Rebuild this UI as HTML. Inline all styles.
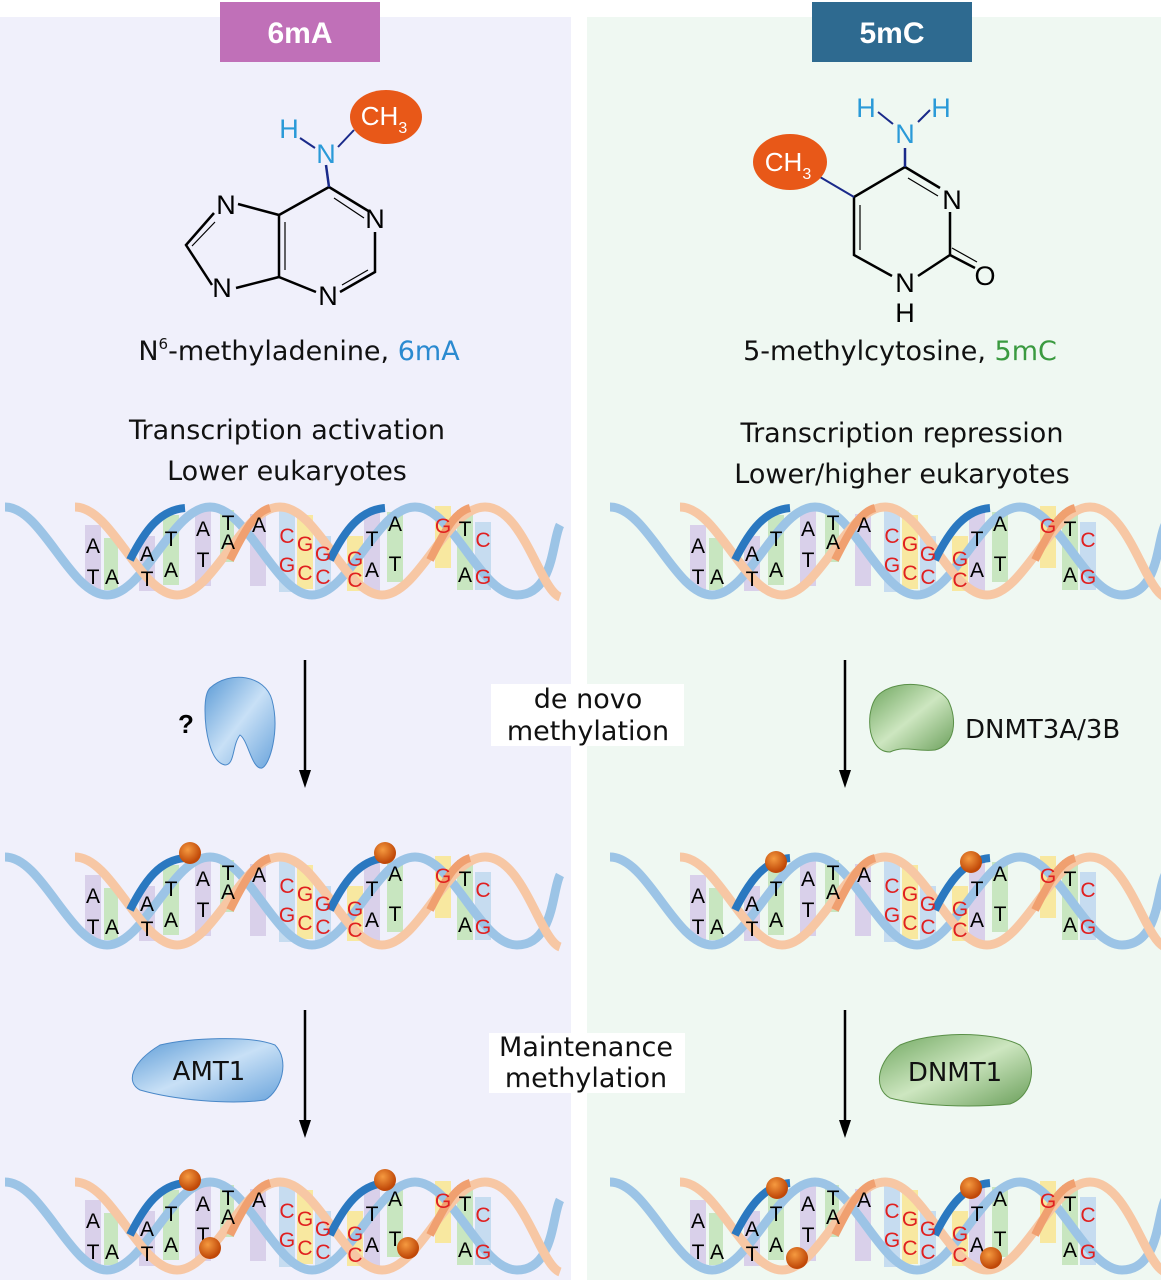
<!DOCTYPE html>
<html><head><meta charset="utf-8"><style>
html,body{margin:0;padding:0;background:#fff}
svg{display:block}
text{font-family:"Liberation Sans",sans-serif}
.t{font-family:"DejaVu Sans","Liberation Sans",sans-serif}
</style></head><body>
<svg width="1161" height="1280" viewBox="0 0 1161 1280" xmlns="http://www.w3.org/2000/svg">
<defs>
<g id="helix">
  <g>
    <rect x="85" y="525" width="16" height="66" fill="#d9d0ea"/>
    <rect x="104" y="538" width="14" height="52" fill="#c8e6c0"/>
    <rect x="139" y="536" width="16" height="55" fill="#d9d0ea"/>
    <rect x="163" y="515" width="16" height="70" fill="#c8e6c0"/>
    <rect x="195" y="508" width="16" height="78" fill="#d9d0ea"/>
    <rect x="220" y="510" width="14" height="52" fill="#c8e6c0"/>
    <rect x="250" y="514" width="16" height="72" fill="#d9d0ea"/>
    <rect x="279" y="510" width="16" height="82" fill="#c6dcf0"/>
    <rect x="297" y="515" width="16" height="74" fill="#f8e8a0"/>
    <rect x="315" y="536" width="16" height="55" fill="#c6dcf0"/>
    <rect x="347" y="536" width="16" height="55" fill="#f8e8a0"/>
    <rect x="364" y="512" width="16" height="80" fill="#d9d0ea"/>
    <rect x="387" y="512" width="16" height="70" fill="#c8e6c0"/>
    <rect x="435" y="506" width="16" height="62" fill="#f8e8a0"/>
    <rect x="457" y="510" width="16" height="80" fill="#c8e6c0"/>
    <rect x="475" y="522" width="16" height="68" fill="#c6dcf0"/>
  </g>
  <path d="M5 507 C42 507 70 595 107 595 S172 507 210 507 S275 595 312 595 S377 507 415 507 S480 595 517 595 S552 540 560 525" fill="none" stroke="#9cc4e6" stroke-width="9"/>
  <path d="M75 507 C112 507 140 595 177 595 S242 507 280 507 S345 595 382 595 S447 507 485 507 S540 590 560 597" fill="none" stroke="#f7c7a4" stroke-width="9"/>
  <path d="M130 560 C145 530 160 510 185 508" fill="none" stroke="#2a78c0" stroke-width="8"/>
  <path d="M330 560 C345 530 360 510 385 508" fill="none" stroke="#2a78c0" stroke-width="8"/>
  <path d="M230 560 C245 530 255 512 270 508" fill="none" stroke="#f0a070" stroke-width="8"/>
  <path d="M430 560 C445 530 455 512 470 508" fill="none" stroke="#f0a070" stroke-width="8"/>
  <g font-size="21" text-anchor="middle">
    <text x="93" y="553">A</text><text x="93" y="584">T</text>
    <text x="112" y="584">A</text>
    <text x="147" y="561">A</text><text x="147" y="586">T</text>
    <text x="171" y="546">T</text><text x="171" y="577">A</text>
    <text x="203" y="536">A</text><text x="203" y="567">T</text>
    <text x="228" y="530">T</text><text x="228" y="549">A</text>
    <text x="259" y="532">A</text>
    <text x="287" y="543" fill="#e02020">C</text><text x="287" y="572" fill="#e02020">G</text>
    <text x="305" y="551" fill="#e02020">G</text><text x="305" y="580" fill="#e02020">C</text>
    <text x="323" y="561" fill="#e02020">G</text><text x="323" y="584" fill="#e02020">C</text>
    <text x="355" y="566" fill="#e02020">G</text><text x="355" y="587" fill="#e02020">C</text>
    <text x="372" y="546">T</text><text x="372" y="577">A</text>
    <text x="395" y="531">A</text><text x="395" y="571">T</text>
    <text x="443" y="533" fill="#e02020">G</text>
    <text x="465" y="536">T</text><text x="465" y="582">A</text>
    <text x="483" y="547" fill="#e02020">C</text><text x="483" y="584" fill="#e02020">G</text>
  </g>
</g>
<radialGradient id="ball" cx="0.4" cy="0.35" r="0.6"><stop offset="0" stop-color="#f59a40"/><stop offset="1" stop-color="#c04808"/></radialGradient>
<linearGradient id="bl" x1="0" y1="0" x2="1" y2="1"><stop offset="0" stop-color="#5a9ad6"/><stop offset="0.5" stop-color="#c8e0f6"/><stop offset="1" stop-color="#6aa4dc"/></linearGradient>
<linearGradient id="gr" x1="0" y1="0" x2="1" y2="1"><stop offset="0" stop-color="#6ea65e"/><stop offset="0.5" stop-color="#cde6c0"/><stop offset="1" stop-color="#6a9f5a"/></linearGradient>
</defs>

<rect x="0" y="17" width="571" height="1263" fill="#f0f0fb"/>
<rect x="587" y="17" width="574" height="1263" fill="#eff8f2"/>

<rect x="220" y="2" width="160" height="60" fill="#c070b8"/>
<text x="300" y="43" font-size="30" font-weight="bold" fill="#fff" text-anchor="middle">6mA</text>
<rect x="812" y="2" width="160" height="60" fill="#2e6a90"/>
<text x="892" y="43" font-size="30" font-weight="bold" fill="#fff" text-anchor="middle">5mC</text>

<g stroke="#000" stroke-width="2.5" fill="none">
  <path d="M329 187 L370 212 M375 232 L375 272 L340 292 M316 292 L279 277 L279 215 L329 187 M279 215 L238 204 M214 213 L186 245 L212 285 M236 288 L279 277"/>
  <path d="M285 222 L285 270 M334 198 L364 218 M368 270 L342 285 M215 222 L192 246" stroke-width="1.2"/>
</g>
<line x1="329" y1="187" x2="326" y2="165" stroke="#1a2a8a" stroke-width="2.5"/>
<line x1="338" y1="147" x2="354" y2="130" stroke="#1a2a8a" stroke-width="2"/>
<line x1="300" y1="138" x2="315" y2="148" stroke="#1a2a8a" stroke-width="2"/>
<g font-size="27" text-anchor="middle">
<text x="226" y="214">N</text><text x="375" y="228">N</text><text x="222" y="297">N</text><text x="328" y="305">N</text>
<text x="326" y="163" fill="#2a9ad8">N</text><text x="289" y="138" fill="#2a9ad8">H</text>
</g>
<ellipse cx="386" cy="117" rx="36" ry="27" fill="#e85818"/>
<text x="384" y="125" font-size="26" fill="#fff" text-anchor="middle">CH<tspan font-size="16" dy="8">3</tspan></text>

<g stroke="#000" stroke-width="2.5" fill="none">
  <path d="M905 167 L940 188 M950 212 L950 255 L918 276 M892 276 L854 255 L854 197 L905 167 M950 255 L975 268"/>
  <path d="M860 205 L860 250 M908 178 L938 196 M952 248 L977 262" stroke-width="1.2"/>
</g>
<line x1="854" y1="197" x2="820" y2="177" stroke="#1a2a8a" stroke-width="2"/>
<line x1="905" y1="167" x2="905" y2="148" stroke="#1a2a8a" stroke-width="2.5"/>
<line x1="878" y1="112" x2="893" y2="124" stroke="#1a2a8a" stroke-width="2"/>
<line x1="918" y1="122" x2="930" y2="110" stroke="#1a2a8a" stroke-width="2"/>
<g font-size="27" text-anchor="middle">
<text x="952" y="209">N</text><text x="905" y="292">N</text><text x="905" y="322">H</text><text x="985" y="285">O</text>
<text x="905" y="143" fill="#2a9ad8">N</text><text x="866" y="117" fill="#2a9ad8">H</text><text x="941" y="117" fill="#2a9ad8">H</text>
</g>
<ellipse cx="790" cy="162" rx="37" ry="28" fill="#e85818"/>
<text x="788" y="171" font-size="26" fill="#fff" text-anchor="middle">CH<tspan font-size="16" dy="8">3</tspan></text>

<g class="t" font-size="27" text-anchor="middle" fill="#111">
<text x="299" y="360" class="t">N<tspan font-size="15" dy="-11">6</tspan><tspan dy="11">-methyladenine, </tspan><tspan fill="#2a8ad0">6mA</tspan></text>
<text x="900" y="360" class="t">5-methylcytosine, <tspan fill="#3a9a40">5mC</tspan></text>
<text x="287" y="439" class="t">Transcription activation</text>
<text x="287" y="480" class="t">Lower eukaryotes</text>
<text x="902" y="442" class="t">Transcription repression</text>
<text x="902" y="483" class="t">Lower/higher eukaryotes</text>
</g>

<use href="#helix"/>
<use href="#helix" transform="translate(605,0)"/>
<use href="#helix" transform="translate(0,350)"/>
<use href="#helix" transform="translate(605,350)"/>
<use href="#helix" transform="translate(0,675)"/>
<use href="#helix" transform="translate(605,675)"/>

<g fill="url(#ball)">
<circle cx="190" cy="853" r="11"/><circle cx="385" cy="853" r="11"/>
<circle cx="776" cy="862" r="11"/><circle cx="971" cy="862" r="11"/>
<circle cx="190" cy="1180" r="11"/><circle cx="385" cy="1180" r="11"/>
<circle cx="210" cy="1248" r="11"/><circle cx="408" cy="1248" r="11"/>
<circle cx="777" cy="1188" r="11"/><circle cx="971" cy="1188" r="11"/>
<circle cx="797" cy="1258" r="11"/><circle cx="991" cy="1258" r="11"/>
</g>

<g stroke="#000" stroke-width="2.5">
<line x1="305" y1="660" x2="305" y2="780"/><line x1="845" y1="660" x2="845" y2="780"/>
<line x1="305" y1="1010" x2="305" y2="1130"/><line x1="845" y1="1010" x2="845" y2="1130"/>
</g>
<g fill="#000">
<path d="M299 770 L305 788 L311 770 Z"/><path d="M839 770 L845 788 L851 770 Z"/>
<path d="M299 1120 L305 1138 L311 1120 Z"/><path d="M839 1120 L845 1138 L851 1120 Z"/>
</g>

<rect x="491" y="684" width="193" height="62" fill="#fff"/>
<g class="t" font-size="27" text-anchor="middle" fill="#111">
<text x="588" y="708" class="t">de novo</text>
<text x="588" y="740" class="t">methylation</text>
</g>
<rect x="489" y="1033" width="196" height="60" fill="#fff"/>
<g class="t" font-size="27" text-anchor="middle" fill="#111">
<text x="586" y="1056" class="t">Maintenance</text>
<text x="586" y="1087" class="t">methylation</text>
</g>

<path d="M210 688 C230 670 265 675 272 700 C280 730 270 765 262 768 C252 770 248 740 240 735 C232 745 235 765 225 765 C210 762 205 730 205 710 C205 700 206 692 210 688 Z" fill="url(#bl)" stroke="#4a88c8" stroke-width="1"/>
<text x="186" y="733" font-size="26" font-weight="bold" text-anchor="middle">?</text>
<path d="M882 692 C900 680 935 682 948 700 C958 720 955 745 935 750 C915 752 905 745 890 752 C875 752 868 735 870 715 C872 702 876 696 882 692 Z" fill="url(#gr)" stroke="#5a9048" stroke-width="1"/>
<text x="965" y="738" class="t" font-size="26" fill="#111">DNMT3A/3B</text>
<path d="M160 1045 C190 1038 250 1035 275 1045 C290 1060 282 1090 265 1100 C230 1105 175 1100 140 1090 C125 1082 132 1062 160 1045 Z" fill="url(#bl)" stroke="#4a88c8" stroke-width="1"/>
<text x="209" y="1080" class="t" font-size="26" text-anchor="middle" fill="#111">AMT1</text>
<path d="M900 1045 C930 1032 990 1030 1020 1045 C1038 1060 1035 1095 1010 1104 C970 1108 920 1106 890 1098 C872 1088 878 1060 900 1045 Z" fill="url(#gr)" stroke="#5a9048" stroke-width="1"/>
<text x="955" y="1081" class="t" font-size="26" text-anchor="middle" fill="#111">DNMT1</text>
</svg>
</body></html>
